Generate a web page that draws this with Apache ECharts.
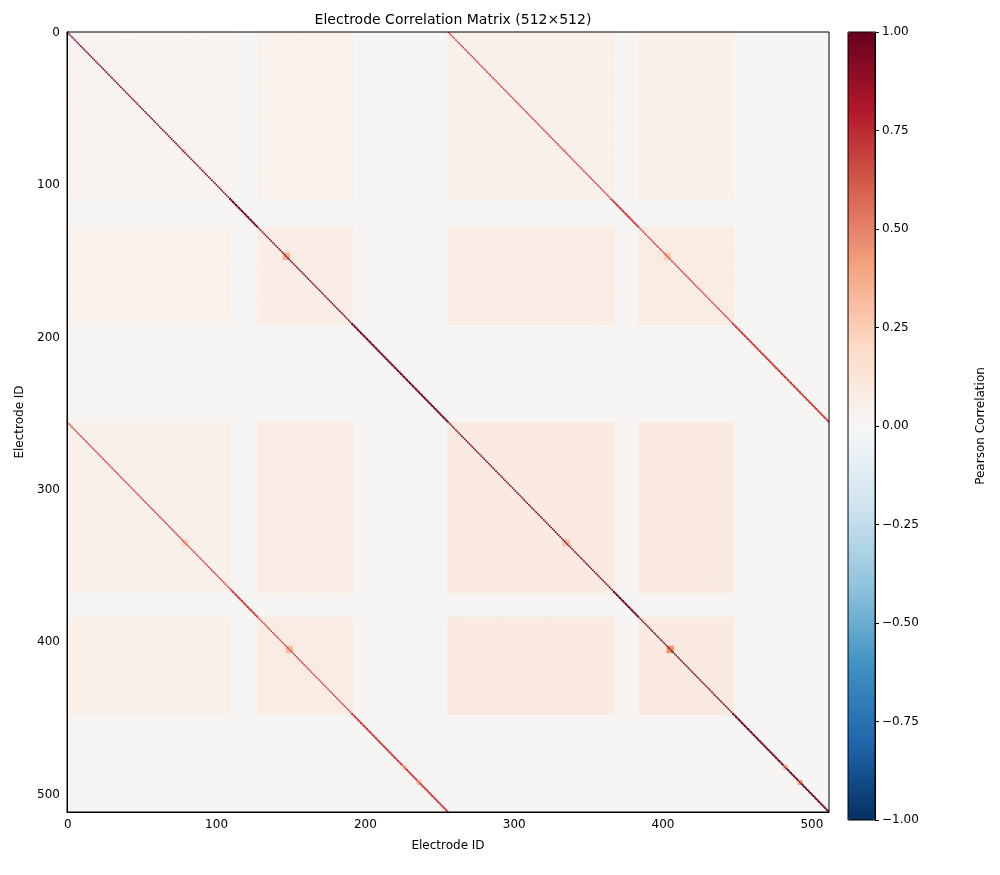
<!DOCTYPE html>
<html><head><meta charset="utf-8">
<script src="https://cdn.jsdelivr.net/npm/echarts@6/dist/echarts.min.js"></script>
<style>html,body{margin:0;padding:0;background:#fff}#c{width:1000px;height:875px}</style>
</head><body><div id="c"></div>
<script>
// Matrix size and tick labels
const N = 512;
const tickValues = [0, 100, 200, 300, 400, 500];
const cbTicks = [-1, -0.75, -0.5, -0.25, 0, 0.25, 0.5, 0.75, 1];
// Correlated electrode groups (start, end exclusive) and their typical correlation level
const groupStart = [0, 128, 256, 384];
const groupEnd   = [110, 192, 368, 448];
const groupLevel = [0.03, 0.07, 0.09, 0.095];
// Diagonal bands: offset and correlation
const bandOffset = [0, 256, -256];
const bandValue  = [1.0, 0.72, 0.72];
// Local hot spots near the diagonal: centre index, half width, value
const hotCentre = [147, 335, 405, 78, 492, 482];
const hotHalf   = [2, 2, 2, 1, 1, 1];
const hotValue  = [0.35, 0.3, 0.45, 0.25, 0.4, 0.3];
const hotCentre2Offset = [0, 256, -256];

const RdBu = ['#053061','#2166ac','#4393c3','#92c5de','#d1e5f0','#f7f7f7','#fddbc7','#f4a582','#d6604d','#b2182b','#67001f'];

const cats = Array.from({length: N}, (_, i) => String(i));
const level = new Array(N).fill(0);
groupStart.forEach((s, g) => { for (let i = s; i < groupEnd[g]; i++) level[i] = groupLevel[g]; });

const cell = new Map();
for (let i = 0; i < N; i++) {
  if (!level[i]) continue;
  for (let j = 0; j < N; j++) {
    if (!level[j]) continue;
    cell.set(i * N + j, Math.sqrt(level[i] * level[j]));
  }
}
hotCentre.forEach((c, k) => {
  hotCentre2Offset.forEach(off => {
    for (let a = -hotHalf[k]; a <= hotHalf[k]; a++) for (let b = -hotHalf[k]; b <= hotHalf[k]; b++) {
      const i = c + a, j = c + b + off;
      if (i >= 0 && i < N && j >= 0 && j < N) cell.set(i * N + j, Math.max(cell.get(i * N + j) || 0, hotValue[k] * (off ? 0.7 : 1)));
    }
  });
});
bandOffset.forEach((off, k) => {
  for (let i = 0; i < N; i++) { const j = i + off; if (j >= 0 && j < N) cell.set(i * N + j, bandValue[k]); }
});
const data = [];
cell.forEach((v, key) => { data.push([key % N, Math.floor(key / N), v]); });

const chart = echarts.init(document.getElementById('c'), null, {renderer: 'canvas'});
const tickShow = (idx) => idx % 100 === 0;
const txt = {color: '#000', fontSize: 12, fontFamily: 'DejaVu Sans'};
chart.setOption({
  animation: false,
  backgroundColor: '#fff',
  title: {text: 'Electrode Correlation Matrix (512×512)', left: 448, top: 8, textAlign: 'center',
    textStyle: {fontSize: 14, fontWeight: 'normal', color: '#000', fontFamily: 'DejaVu Sans'}},
  grid: [
    {left: 67, top: 32, width: 762, height: 780, show: true, backgroundColor: '#f7f5f4', borderWidth: 0},
    {left: 848, top: 32, width: 27, height: 788, show: false}
  ],
  graphic: [
    {type: 'rect', z: 100, shape: {x: 67, y: 32, width: 762, height: 780}, style: {fill: 'none', stroke: '#000', lineWidth: 1}},
    {type: 'rect', z: 100, shape: {x: 848, y: 32, width: 27, height: 788}, style: {fill: 'none', stroke: '#000', lineWidth: 1}}
  ],
  xAxis: [
    {type: 'category', data: cats, gridIndex: 0, z: 10, name: 'Electrode ID', nameLocation: 'middle', nameGap: 28, nameTextStyle: txt,
      axisLine: {lineStyle: {color: '#000'}}, splitLine: {show: false},
      axisTick: {interval: tickShow, alignWithLabel: true, length: 4, lineStyle: {color: '#000'}},
      axisLabel: {interval: tickShow, ...txt, margin: 7}},
    {type: 'value', gridIndex: 1, show: false, min: 0, max: 1}
  ],
  yAxis: [
    {type: 'category', data: cats, inverse: true, gridIndex: 0, z: 10, name: 'Electrode ID', nameLocation: 'middle', nameGap: 40, nameTextStyle: txt,
      axisLine: {lineStyle: {color: '#000'}}, splitLine: {show: false},
      axisTick: {interval: tickShow, alignWithLabel: true, length: 4, lineStyle: {color: '#000'}},
      axisLabel: {interval: tickShow, ...txt, margin: 7}},
    {type: 'value', gridIndex: 1, position: 'right', min: -1, max: 1, interval: 0.25, z: 10,
      name: 'Pearson Correlation', nameLocation: 'middle', nameGap: 100, nameRotate: 90, nameTextStyle: txt,
      axisLine: {show: true, onZero: false, lineStyle: {color: '#000'}}, splitLine: {show: false},
      axisTick: {show: true, inside: false, length: 4, lineStyle: {color: '#000'}},
      axisLabel: {...txt, margin: 7, formatter: v => (v < 0 ? '\u2212' : '') + Math.abs(v).toFixed(2)}}
  ],
  visualMap: {
    type: 'continuous', min: -1, max: 1, seriesIndex: 0, calculable: false, show: true,
    left: 848, top: 32, itemWidth: 27, itemHeight: 788, padding: 0, text: ['', ''], textGap: 0,
    inRange: {color: RdBu}
  },
  series: [{
    type: 'heatmap', xAxisIndex: 0, yAxisIndex: 0, z: 1, data: data, progressive: 0, emphasis: {disabled: true}
  }]
});
</script></body></html>
